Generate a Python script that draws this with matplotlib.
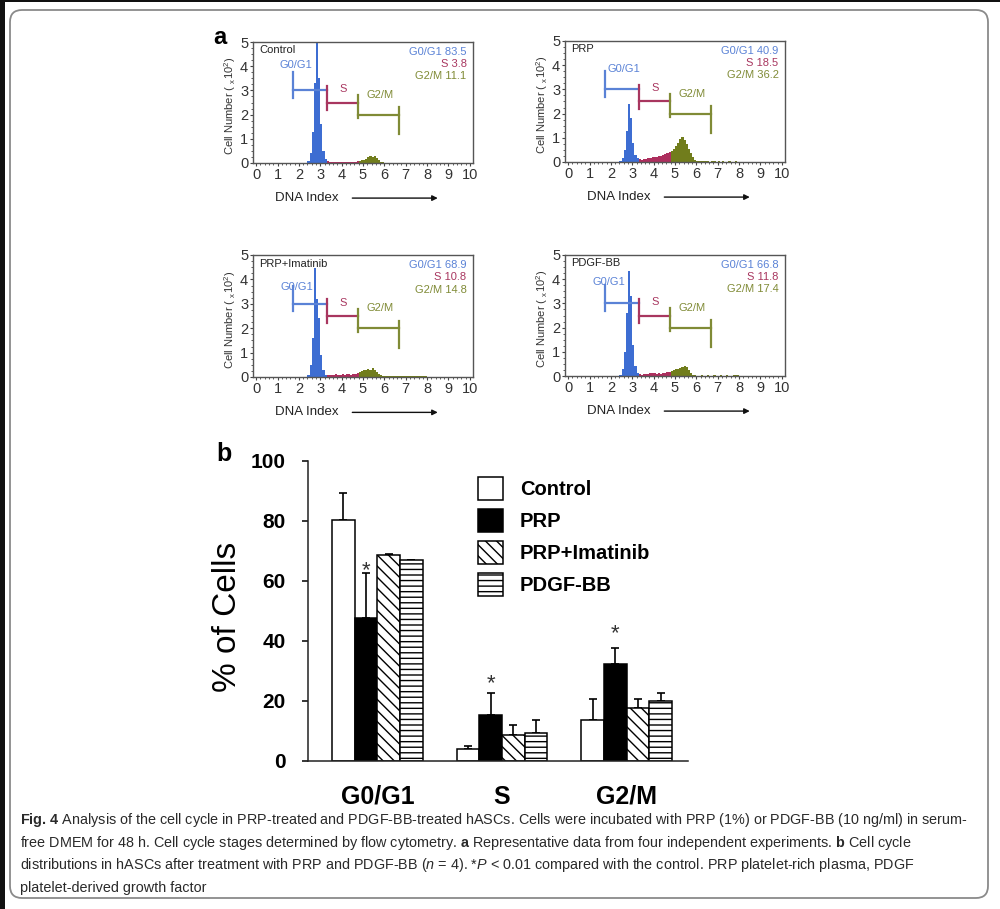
import numpy as np
import matplotlib.pyplot as plt
from matplotlib.patches import FancyBboxPatch, Rectangle
from matplotlib.ticker import MultipleLocator

plt.rcParams['font.family'] = ['Liberation Sans', 'DejaVu Sans']
plt.rcParams['mathtext.fontset'] = 'custom'
plt.rcParams['mathtext.rm'] = 'Liberation Sans'
plt.rcParams['mathtext.it'] = 'Liberation Sans:italic'
plt.rcParams['mathtext.bf'] = 'Liberation Sans:bold'
plt.rcParams['hatch.linewidth'] = 1.0

# ---- panel a: DNA histograms, cell number (x10^2) per 0.1 DNA-index bin, first bin at 2.3
bin_start = 2.3
bin_width = 0.1
control_hist = [0.02, 0.1, 0.4, 1.3, 3.3, 5.0, 3.5, 1.6, 0.5, 0.15,
                0.08, 0.05, 0.04, 0.03, 0.04, 0.03, 0.04, 0.04, 0.03, 0.04, 0.05, 0.04, 0.05, 0.06, 0.07,
                0.09, 0.11, 0.14, 0.18, 0.24, 0.3, 0.26, 0.29, 0.22, 0.14, 0.06, 0.03,
                0.02, 0.02, 0.01, 0.02, 0.01, 0.01, 0.02, 0.01, 0.01, 0.01,
                0.02, 0.01, 0.01, 0.01, 0.01, 0.02, 0.01, 0.01, 0.01, 0.01]
prp_hist = [0.0, 0.03, 0.15, 0.5, 1.3, 2.4, 1.8, 0.8, 0.3, 0.15,
            0.12, 0.1, 0.12, 0.14, 0.16, 0.15, 0.2, 0.22, 0.2, 0.26, 0.25, 0.3, 0.32, 0.36, 0.4,
            0.45, 0.55, 0.68, 0.8, 0.95, 1.05, 0.9, 0.75, 0.55, 0.38, 0.22, 0.1,
            0.05, 0.04, 0.03, 0.03, 0.04, 0.03, 0.02, 0.03, 0.03, 0.02,
            0.03, 0.02, 0.03, 0.02, 0.02, 0.03, 0.02, 0.02, 0.03, 0.02]
imatinib_hist = [0.02, 0.1, 0.5, 1.6, 4.45, 3.2, 2.4, 0.9, 0.3, 0.1,
                 0.08, 0.1, 0.08, 0.1, 0.12, 0.09, 0.1, 0.12, 0.1, 0.11, 0.13, 0.1, 0.12, 0.14, 0.15,
                 0.2, 0.24, 0.3, 0.28, 0.32, 0.3, 0.35, 0.28, 0.2, 0.12, 0.08, 0.06,
                 0.05, 0.06, 0.05, 0.04, 0.05, 0.04, 0.05, 0.04, 0.06, 0.05,
                 0.04, 0.05, 0.06, 0.05, 0.04, 0.05, 0.04, 0.05, 0.04, 0.03]
pdgf_hist = [0.0, 0.05, 0.3, 1.0, 2.6, 4.35, 3.3, 1.3, 0.4, 0.12,
             0.07, 0.06, 0.07, 0.08, 0.1, 0.12, 0.14, 0.12, 0.1, 0.12, 0.1, 0.12, 0.13, 0.15, 0.17,
             0.2, 0.24, 0.28, 0.3, 0.35, 0.38, 0.42, 0.38, 0.25, 0.12, 0.06, 0.03,
             0.02, 0.02, 0.03, 0.02, 0.02, 0.03, 0.02, 0.02, 0.03, 0.02,
             0.02, 0.03, 0.02, 0.02, 0.03, 0.02, 0.02, 0.04, 0.05, 0.03]

sample_names = ['Control', 'PRP', 'PRP+Imatinib', 'PDGF-BB']
g0g1_pct = ['83.5', '40.9', '68.9', '66.8']
s_pct = ['3.8', '18.5', '10.8', '11.8']
g2m_pct = ['11.1', '36.2', '14.8', '17.4']

# ---- panel b: % of cells per phase (mean, upper error)
phases = ['G0/G1', 'S', 'G2/M']
treatments = ['Control', 'PRP', 'PRP+Imatinib', 'PDGF-BB']
control_mean = [80.5, 3.9, 13.8]
control_err = [8.8, 1.1, 7.0]
prp_mean = [47.6, 15.4, 32.3]
prp_err = [15.0, 7.3, 5.4]
imatinib_mean = [68.6, 8.8, 17.7]
imatinib_err = [0.4, 3.2, 3.0]
pdgf_mean = [66.9, 9.4, 20.0]
pdgf_err = [0.2, 4.3, 2.7]
star_y = [63.4, 25.8, 42.5]

W, H = 1000, 909
fig = plt.figure(figsize=(W / 100, H / 100), dpi=100)


def px_axes(left, top, right, bottom):
    return fig.add_axes([left / W, 1 - bottom / H, (right - left) / W, (bottom - top) / H])


BLUE = '#3d6dd2'
RED = '#ad2f5e'
OLIVE = '#717d1c'
BLUE_T = '#5a82d6'
RED_T = '#a8365f'
OLIVE_T = '#808b36'

hists = [control_hist, prp_hist, imatinib_hist, pdgf_hist]
boxes = [(253, 42, 473, 163), (565, 41, 785, 162), (253, 255, 473, 377), (565, 255, 785, 376)]
g0_label_pos = [(1.85, 4.05), (2.6, 3.85), (1.9, 3.7), (1.9, 3.9)]

for i in range(4):
    ax = px_axes(*boxes[i])
    counts = np.array(hists[i])
    left = bin_start + bin_width * np.arange(len(counts))
    colors = [BLUE if e < 3.25 else RED if e < 4.75 else OLIVE for e in left]
    ax.bar(left, counts, width=bin_width, align='edge', color=colors, linewidth=0)

    # gate markers
    ax.plot([1.7, 3.3], [3.0, 3.0], color=BLUE_T, lw=1.6)
    ax.plot([1.7, 1.7], [2.7, 3.75], color=BLUE_T, lw=1.6)
    ax.plot([3.3, 4.75], [2.5, 2.5], color=RED_T, lw=1.6)
    ax.plot([3.3, 3.3], [2.2, 3.2], color=RED_T, lw=1.6)
    ax.plot([4.75, 6.7], [2.0, 2.0], color=OLIVE_T, lw=1.6)
    ax.plot([4.75, 4.75], [1.85, 2.8], color=OLIVE_T, lw=1.6)
    ax.plot([6.7, 6.7], [1.2, 2.3], color=OLIVE_T, lw=1.6)

    gx, gy = g0_label_pos[i]
    ax.text(gx, gy, 'G0/G1', color=BLUE_T, fontsize=8, ha='center', va='center')
    ax.text(4.05, 3.05, 'S', color=RED_T, fontsize=8, ha='center', va='center')
    ax.text(5.82, 2.83, 'G2/M', color=OLIVE_T, fontsize=8, ha='center', va='center')

    ax.text(0.15, 4.65, sample_names[i], color='#222', fontsize=8, ha='left', va='center')
    ax.text(9.85, 4.58, 'G0/G1 ' + g0g1_pct[i], color=BLUE_T, fontsize=8, ha='right', va='center')
    ax.text(9.85, 4.08, 'S ' + s_pct[i], color=RED_T, fontsize=8, ha='right', va='center')
    ax.text(9.85, 3.58, 'G2/M ' + g2m_pct[i], color=OLIVE_T, fontsize=8, ha='right', va='center')

    ax.set_xlim(-0.15, 10.15)
    ax.set_ylim(0, 5)
    ax.xaxis.set_major_locator(MultipleLocator(1))
    ax.xaxis.set_minor_locator(MultipleLocator(0.2))
    ax.yaxis.set_major_locator(MultipleLocator(1))
    ax.yaxis.set_minor_locator(MultipleLocator(0.25))
    ax.tick_params(which='major', direction='out', length=2.5, width=0.8, pad=1,
                   labelsize=10.5, colors='#444', labelcolor='#333')
    ax.tick_params(which='minor', direction='out', length=1.5, width=0.6, colors='#444')
    for s in ax.spines.values():
        s.set_color('#555')
        s.set_linewidth(1.0)

    ax.text(-0.105, 0.47, r'Cell Number ( $_{\mathregular{x}}$10$^{\mathregular{2}}$)', transform=ax.transAxes,
            rotation=90, ha='center', va='center', fontsize=8, color='#333')
    ax.text(2.35, -0.29, 'DNA Index', transform=ax.get_xaxis_transform(), ha='center', va='center',
            fontsize=9.5, color='#222')
    ax.annotate('', xy=(8.5, -0.29), xytext=(4.5, -0.29), xycoords=ax.get_xaxis_transform(),
                textcoords=ax.get_xaxis_transform(), annotation_clip=False,
                arrowprops=dict(arrowstyle='-|>', lw=1.0, color='#111', mutation_scale=8,
                                shrinkA=0, shrinkB=0))

# ---- panel b
ax = px_axes(308, 461, 688, 761)
means = [control_mean, prp_mean, imatinib_mean, pdgf_mean]
errs = [control_err, prp_err, imatinib_err, pdgf_err]
faces = ['white', 'black', 'white', 'white']
hatches = [None, None, '\\\\\\', '---']
centers = np.arange(len(phases)) * 5.5
handles = []
for k in range(4):
    x = centers + (k - 1.5)
    b = ax.bar(x, means[k], width=1.0, facecolor=faces[k], edgecolor='black', hatch=hatches[k],
               linewidth=1.1, zorder=2)
    handles.append(b)
    ax.errorbar(x, means[k], yerr=[np.zeros(len(phases)), errs[k]], fmt='none', ecolor='black',
                elinewidth=1.2, capsize=3, capthick=1.2, zorder=1)

for j in range(len(phases)):
    ax.text(centers[j] - 0.5, star_y[j], '*', fontsize=16, ha='center', va='center', color='#333')

ax.set_xlim(-3.06, 13.7)
ax.set_ylim(0, 100)
ax.set_yticks([0, 20, 40, 60, 80, 100])
ax.set_xticks(centers, phases)
ax.tick_params(axis='y', direction='out', length=4, width=1.1, pad=12, labelsize=15)
ax.tick_params(axis='x', length=0, pad=17, labelsize=18)
for lbl in ax.get_yticklabels() + ax.get_xticklabels():
    lbl.set_fontweight('bold')
for s in ['top', 'right']:
    ax.spines[s].set_visible(False)
for s in ['left', 'bottom']:
    ax.spines[s].set_linewidth(1.1)
    ax.spines[s].set_color('#222')

ax.legend(handles, treatments, loc='upper left', bbox_to_anchor=(478 / W, 1 - 477 / H),
          bbox_transform=fig.transFigure, frameon=False, borderpad=0, borderaxespad=0,
          prop={'weight': 'bold', 'size': 14.5}, handlelength=1.24, handleheight=1.38,
          handletextpad=0.85, labelspacing=0.45)

fig.text(228 / W, 1 - 617 / H, '% of Cells', rotation=90, ha='center', va='center', fontsize=24)

# panel letters
fig.text(220 / W, 1 - 38 / H, 'a', fontsize=17, fontweight='bold', ha='center', va='center')
fig.text(224 / W, 1 - 454 / H, 'b', fontsize=18, fontweight='bold', ha='center', va='center')

# caption
caption = [
    r'$\mathbf{Fig.\,4}$ Analysis of the cell cycle in PRP-treated and PDGF-BB-treated hASCs. Cells were incubated with PRP (1%) or PDGF-BB (10 ng/ml) in serum-',
    r'free DMEM for 48 h. Cell cycle stages determined by flow cytometry. $\mathbf{a}$ Representative data from four independent experiments. $\mathbf{b}$ Cell cycle',
    r'distributions in hASCs after treatment with PRP and PDGF-BB ($\mathit{n}$ = 4). *$\mathit{P}$ < 0.01 compared with the control. PRP platelet-rich plasma, PDGF',
    'platelet-derived growth factor',
]
for n, line in enumerate(caption):
    fig.text(20 / W, 1 - (820 + 22.7 * n) / H, line, fontsize=10.4, color='#2a2a2a', ha='left', va='center')

# frame
fig.add_artist(FancyBboxPatch((0.10, 0.11), 9.78, 8.88, boxstyle='round,pad=0,rounding_size=0.12',
                              transform=fig.dpi_scale_trans, fill=False, edgecolor='#8a8a8a', lw=1.3))
fig.add_artist(Rectangle((0, 0), 0.05, H / 100, transform=fig.dpi_scale_trans, color='#111', lw=0))
fig.add_artist(Rectangle((0, H / 100 - 0.02), W / 100, 0.02, transform=fig.dpi_scale_trans, color='#111', lw=0))

fig.savefig('out.png', dpi=100)
